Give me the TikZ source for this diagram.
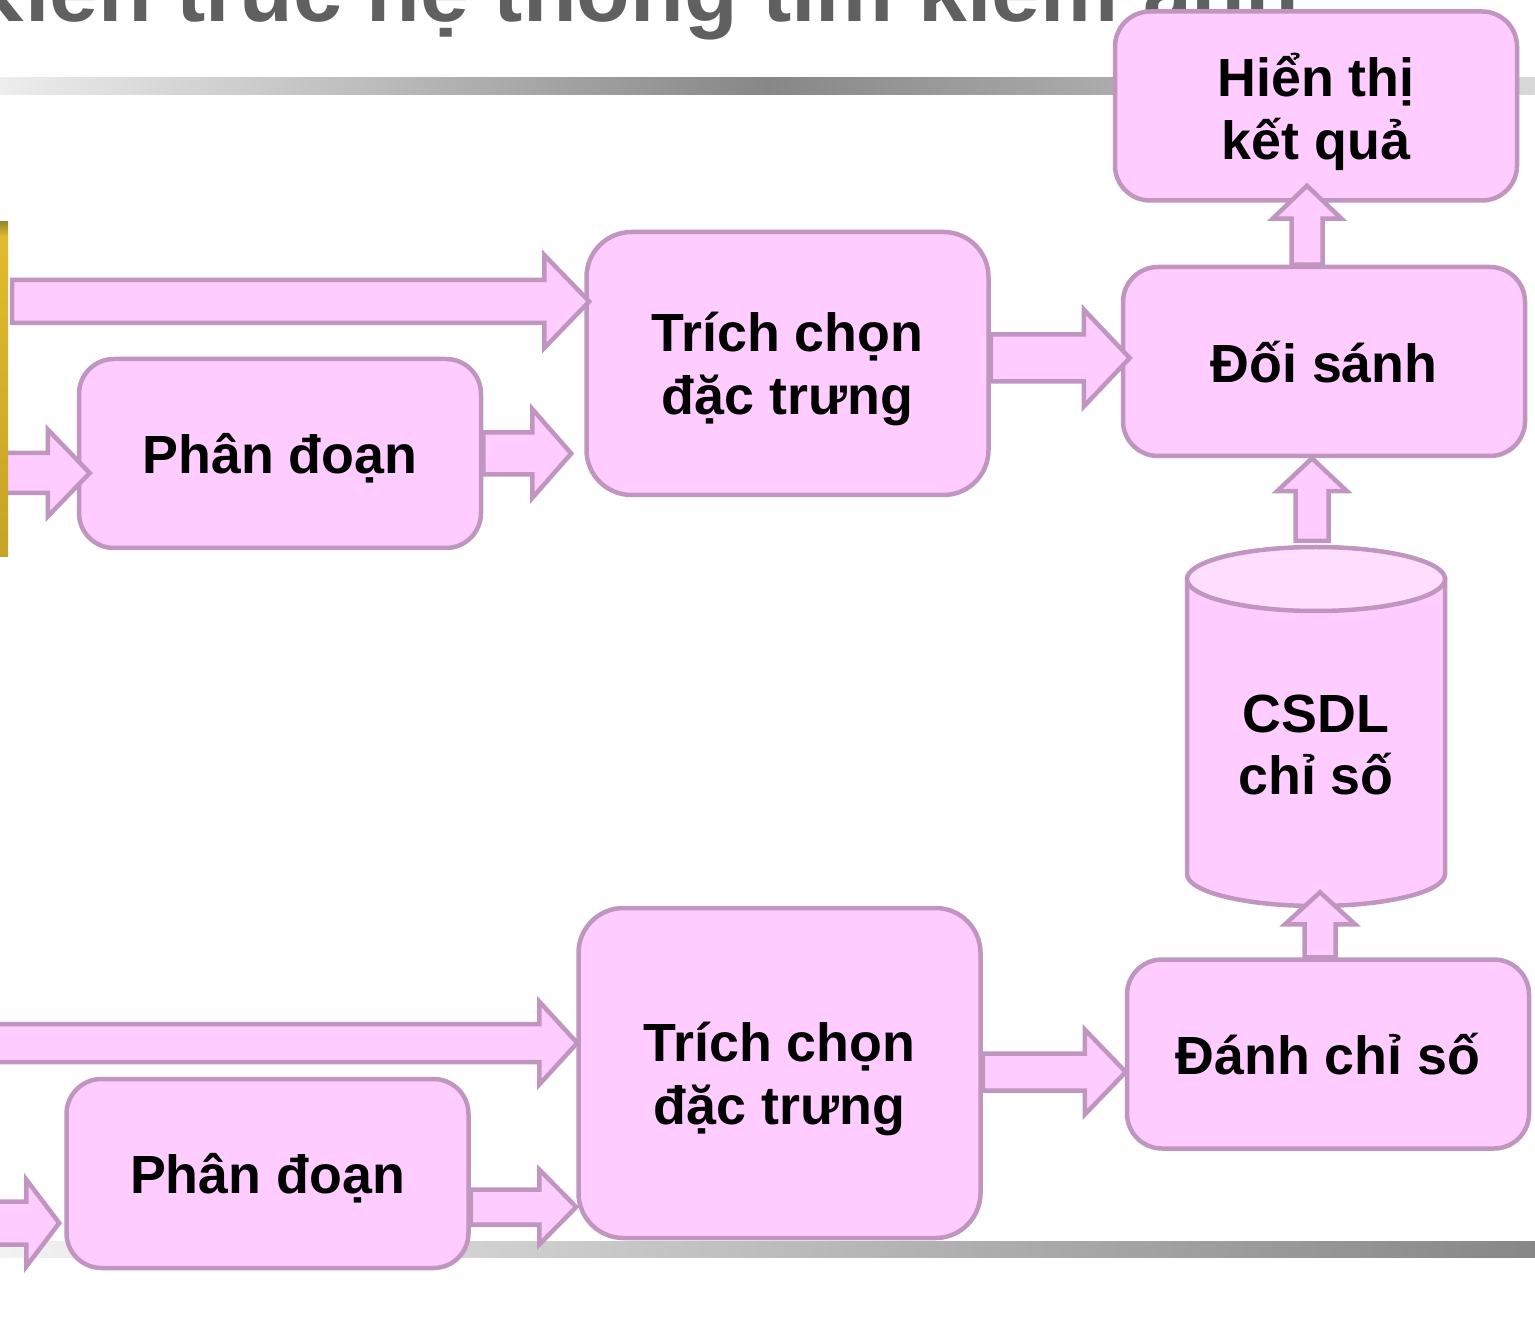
\documentclass[tikz,border=0pt]{standalone}
\usepackage{fontspec}
\setmainfont{Liberation Sans}
\usetikzlibrary{calc}
\definecolor{boxfill}{HTML}{FFCCFF}
\definecolor{boxline}{HTML}{C096C0}
\definecolor{dbtop}{HTML}{FFDDFF}
\definecolor{titlegray}{HTML}{606060}
\definecolor{goldtop}{HTML}{9C8A2C}
\definecolor{goldmid}{HTML}{E2BA2C}
\newcommand{\boxfont}{\fontsize{15.3}{17.9}\selectfont\bfseries}
\tikzset{
  blk/.style={fill=boxfill,draw=boxline,line width=0.45mm,line join=miter},
  stage/.style={blk,rectangle,rounded corners=3.5mm,minimum width=40.2mm,minimum height=18.9mm,align=center,text depth=0pt,font=\boxfont},
}
% block arrow to the right: start, tip, shaft half, head half, head length
\newcommand{\harrow}[5]{%
  \draw[blk] ($(#1)+(0,-#3)$) -- ($(#2)+(-#5,-#3)$) -- ($(#2)+(-#5,-#4)$) -- (#2)
    -- ($(#2)+(-#5,#4)$) -- ($(#2)+(-#5,#3)$) -- ($(#1)+(0,#3)$) -- cycle;}
% block arrow upwards
\newcommand{\varrow}[5]{%
  \draw[blk] ($(#1)+(-#3,0)$) -- ($(#2)+(-#3,#5)$) -- ($(#2)+(-#4,#5)$) -- (#2)
    -- ($(#2)+(#4,#5)$) -- ($(#2)+(#3,#5)$) -- ($(#1)+(#3,0)$) -- cycle;}
\begin{document}
\begin{tikzpicture}[x=0.1mm,y=-0.1mm]
    \useasboundingbox (0,0) rectangle (1535,1322);
    % slide background
    \shade[left color=black!7,right color=black!15,middle color=black!47] (0,78) rectangle (1535,95);
    \shade[left color=black!5,right color=black!47] (0,1241) rectangle (1535,1257);
    \node[anchor=base west,inner sep=0,text=titlegray,font=\fontsize{25}{30}\selectfont\bfseries] (title) at (-39,22) {Kiến trúc hệ thống tìm kiếm ảnh};
    % stages
    \node[stage] (show) at (1316,106) {Hiển thị\\kết quả};
    \node[stage] (match) at (1324,361.5) {Đối sánh};
    \node[stage,minimum height=26.3mm,rounded corners=4.5mm] (feat1) at (787.5,363.5) {Trích chọn\\đặc trưng};
    \node[stage] (seg1) at (280,453.5) {Phân đoạn};
    \node[stage,minimum height=33mm,rounded corners=4.5mm] (feat2) at (779.5,1073) {Trích chọn\\đặc trưng};
    \node[stage] (seg2) at (267.5,1173.5) {Phân đoạn};
    \node[stage] (index) at (1328,1054) {Đánh chỉ số};
    % index database
    \draw[blk] (1187,579) -- (1187,874) arc[start angle=180,end angle=0,x radius=129,y radius=32] -- (1445,579) -- cycle;
    \draw[blk,fill=dbtop] (1316,579) ellipse[x radius=129,y radius=32];
    \node[align=center,font=\boxfont] (db) at (1316,745) {CSDL\\chỉ số};
    % arrow ends
    \coordinate (in1) at (12,301.5);
    \coordinate (in2) at (-5,473);
    \coordinate (in3) at (-5,1043);
    \coordinate (in4) at (-5,1223);
    \coordinate (dbhead) at (1312,541);
    \harrow{in1}{$(in1 -| feat1.west)+(5,0)$}{21.5}{46.5}{45}
    \harrow{in2}{$(in2 -| seg1.west)+(13,0)$}{20}{43.5}{42}
    \harrow{seg1.east}{$(seg1.east)+(88,0)$}{21}{44.5}{39}
    \harrow{$(feat1.east)+(0,-5.5)$}{$(feat1.east -| match.west)+(9,-5.5)$}{23.5}{48.5}{46}
    \varrow{$(match.north)+(-17,0)$}{$(show.south)+(-9,-17)$}{15.5}{34.5}{33}
    \varrow{dbhead}{dbhead |- match.south}{16.5}{35}{33}
    \varrow{$(index.north)+(-8,0)$}{$(index.north)+(-8,-65)$}{15.5}{35}{32}
    \harrow{in3}{$(in3 -| feat2.west)+(1,0)$}{19}{41.5}{38}
    \harrow{in4}{$(in4 -| seg2.west)+(-5,0)$}{21.5}{43.5}{33}
    \harrow{$(seg2.east)+(0,33.5)$}{$(seg2.east -| feat2.west)+(0,33.5)$}{17.5}{37.5}{37}
    \harrow{$(feat2.east)+(0,-1)$}{$(feat2.east -| index.west)+(1,-1)$}{18.5}{42.5}{41}
    \shade[top color=goldmid,bottom color=goldmid!88!black] (0,236) rectangle (8,557);
    \shade[top color=goldtop,bottom color=goldmid] (0,222) rectangle (8,237);
\end{tikzpicture}
\end{document}
